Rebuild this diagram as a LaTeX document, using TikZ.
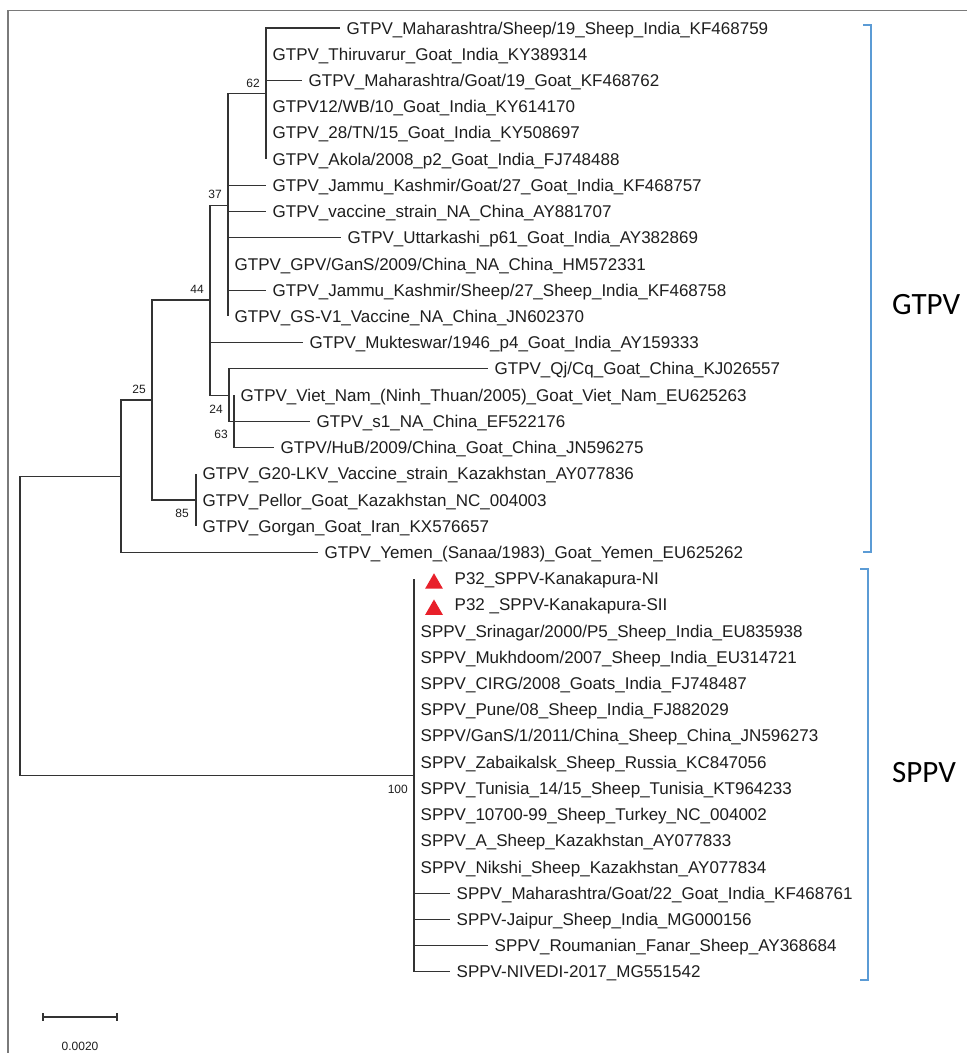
\documentclass[tikz,border=0pt]{standalone}
\usepackage{fontspec}
\setmainfont{Liberation Sans}
\newfontfamily\carlitofont{Carlito}
\usetikzlibrary{shapes.geometric}
\definecolor{txt}{HTML}{1E1E1E}
\definecolor{br}{HTML}{333333}
\definecolor{frame}{HTML}{7A7A7A}
\definecolor{bluebr}{HTML}{5B9BD5}
\definecolor{mkred}{HTML}{E8202A}
\tikzset{
  branch/.style={draw=br, line width=1.1pt},
  leaflabel/.style={anchor=base west, inner sep=0pt, xshift=6.5pt, yshift=-6pt,
     text=txt, font=\fontsize{17}{20}\selectfont},
  boot/.style={inner sep=0pt, text=txt, font=\fontsize{12}{14}\selectfont},
  grouplabel/.style={anchor=west, inner sep=0pt, text=black, font=\carlitofont\fontsize{31}{36}\selectfont},
  bracket/.style={draw=bluebr, line width=2pt},
  marker/.style={regular polygon, regular polygon sides=3, fill=mkred, draw=none,
     minimum size=20.5pt, inner sep=0pt}
}
\newcommand\leaf[5]{%
  \coordinate (#1) at (#3,#4);
  \draw[branch] (#2) |- (#1);
  \node[leaflabel] (#1t) at (#1) {#5};}
\begin{document}
\begin{tikzpicture}[x=1pt,y=-1pt]
\useasboundingbox (0,0) rectangle (967,1053);
\fill[white] (0,0) rectangle (967,1053);
% frame
\coordinate (fc) at (8,10.7);
\coordinate (fr) at (967,10.7);
\coordinate (fb) at (8,1053);
\draw[draw=frame, line width=1.4pt] (fr) -- (fc) -- (fb);
% internal nodes
\coordinate (n62) at (266,93.6);
\coordinate (n37) at (228,205.5);
\coordinate (n44) at (210,300);
\coordinate (n24) at (229,395.1);
\coordinate (n63) at (234,421.3);
\coordinate (n25) at (152,400);
\coordinate (n85) at (196,500);
\coordinate (nU) at (121,476.2);
\coordinate (nR) at (20,625.7);
\coordinate (nS) at (414,775.2);
\draw[branch] (n37) |- (n62);
\draw[branch] (n44) |- (n37);
\draw[branch] (n44) |- (n24);
\draw[branch] (n24) |- (n63);
\draw[branch] (n25) |- (n44);
\draw[branch] (n25) |- (n85);
\draw[branch] (nU) |- (n25);
\draw[branch] (nR) |- (nU);
\draw[branch] (nR) |- (nS);
% leaves
\leaf{l1}{n62}{340}{28}{GTPV\_Maharashtra/Sheep/19\_Sheep\_India\_KF468759}
\leaf{l2}{n62}{266}{54.2}{GTPV\_Thiruvarur\_Goat\_India\_KY389314}
\leaf{l3}{n62}{302}{80.4}{GTPV\_Maharashtra/Goat/19\_Goat\_KF468762}
\leaf{l4}{n62}{266}{106.7}{GTPV12/WB/10\_Goat\_India\_KY614170}
\leaf{l5}{n62}{266}{132.9}{GTPV\_28/TN/15\_Goat\_India\_KY508697}
\leaf{l6}{n62}{266}{159.1}{GTPV\_Akola/2008\_p2\_Goat\_India\_FJ748488}
\leaf{l7}{n37}{266}{185.3}{GTPV\_Jammu\_Kashmir/Goat/27\_Goat\_India\_KF468757}
\leaf{l8}{n37}{266}{211.5}{GTPV\_vaccine\_strain\_NA\_China\_AY881707}
\leaf{l9}{n37}{341}{237.8}{GTPV\_Uttarkashi\_p61\_Goat\_India\_AY382869}
\leaf{l10}{n37}{228}{264}{GTPV\_GPV/GanS/2009/China\_NA\_China\_HM572331}
\leaf{l11}{n37}{266}{290.2}{GTPV\_Jammu\_Kashmir/Sheep/27\_Sheep\_India\_KF468758}
\leaf{l12}{n37}{228}{316.4}{GTPV\_GS-V1\_Vaccine\_NA\_China\_JN602370}
\leaf{l13}{n44}{303}{342.6}{GTPV\_Mukteswar/1946\_p4\_Goat\_India\_AY159333}
\leaf{l14}{n24}{488}{368.9}{GTPV\_Qj/Cq\_Goat\_China\_KJ026557}
\leaf{l15}{n63}{234}{395.1}{GTPV\_Viet\_Nam\_(Ninh\_Thuan/2005)\_Goat\_Viet\_Nam\_EU625263}
\leaf{l16}{n24}{310}{421.3}{GTPV\_s1\_NA\_China\_EF522176}
\leaf{l17}{n63}{274}{447.5}{GTPV/HuB/2009/China\_Goat\_China\_JN596275}
\leaf{l18}{n85}{196}{473.7}{GTPV\_G20-LKV\_Vaccine\_strain\_Kazakhstan\_AY077836}
\leaf{l19}{n85}{196}{500}{GTPV\_Pellor\_Goat\_Kazakhstan\_NC\_004003}
\leaf{l20}{n85}{196}{526.2}{GTPV\_Gorgan\_Goat\_Iran\_KX576657}
\leaf{l21}{nU}{318}{552.4}{GTPV\_Yemen\_(Sanaa/1983)\_Goat\_Yemen\_EU625262}
\leaf{l22}{nS}{414}{578.6}{\hspace{34pt}P32\_SPPV-Kanakapura-NI}
\leaf{l23}{nS}{414}{604.8}{\hspace{34pt}P32 \_SPPV-Kanakapura-SII}
\leaf{l24}{nS}{414}{631.0}{SPPV\_Srinagar/2000/P5\_Sheep\_India\_EU835938}
\leaf{l25}{nS}{414}{657.3}{SPPV\_Mukhdoom/2007\_Sheep\_India\_EU314721}
\leaf{l26}{nS}{414}{683.5}{SPPV\_CIRG/2008\_Goats\_India\_FJ748487}
\leaf{l27}{nS}{414}{709.7}{SPPV\_Pune/08\_Sheep\_India\_FJ882029}
\leaf{l28}{nS}{414}{735.9}{SPPV/GanS/1/2011/China\_Sheep\_China\_JN596273}
\leaf{l29}{nS}{414}{762.1}{SPPV\_Zabaikalsk\_Sheep\_Russia\_KC847056}
\leaf{l30}{nS}{414}{788.4}{SPPV\_Tunisia\_14/15\_Sheep\_Tunisia\_KT964233}
\leaf{l31}{nS}{414}{814.6}{SPPV\_10700-99\_Sheep\_Turkey\_NC\_004002}
\leaf{l32}{nS}{414}{840.8}{SPPV\_A\_Sheep\_Kazakhstan\_AY077833}
\leaf{l33}{nS}{414}{867.0}{SPPV\_Nikshi\_Sheep\_Kazakhstan\_AY077834}
\leaf{l34}{nS}{450}{893.2}{SPPV\_Maharashtra/Goat/22\_Goat\_India\_KF468761}
\leaf{l35}{nS}{450}{919.5}{SPPV-Jaipur\_Sheep\_India\_MG000156}
\leaf{l36}{nS}{488}{945.7}{SPPV\_Roumanian\_Fanar\_Sheep\_AY368684}
\leaf{l37}{nS}{450}{971.9}{SPPV-NIVEDI-2017\_MG551542}
% markers
\node[marker] (m1) at (434,583.5) {};
\node[marker] (m2) at (434,609.7) {};
% bootstrap values
\node[boot, anchor=south east] (b62) at (260,88) {62};
\node[boot, anchor=south east] (b37) at (222,199) {37};
\node[boot, anchor=south east] (b44) at (204,294) {44};
\node[boot, anchor=south east] (b25) at (146,394) {25};
\node[boot, anchor=north east] (b24) at (223,405) {24};
\node[boot, anchor=north east] (b63) at (228,430) {63};
\node[boot, anchor=north east] (b85) at (189,509) {85};
\node[boot, anchor=north east] (b100) at (408,785) {100};
% group brackets
\coordinate (g1a) at (863,25);
\coordinate (g1b) at (871,25);
\coordinate (g1c) at (871,552);
\coordinate (g1d) at (863,552);
\draw[bracket] (g1a) -- (g1b) -- (g1c) -- (g1d);
\coordinate (g2a) at (860,569);
\coordinate (g2b) at (868,569);
\coordinate (g2c) at (868,980);
\coordinate (g2d) at (860,980);
\draw[bracket] (g2a) -- (g2b) -- (g2c) -- (g2d);
\node[grouplabel] (gl1) at (892,305) {GTPV};
\node[grouplabel] (gl2) at (892,773) {SPPV};
% scale bar
\coordinate (s1) at (43,1017);
\coordinate (s2) at (117,1017);
\draw[branch] (s1) -- (s2);
\draw[branch] ([yshift=4pt]s1) -- ([yshift=-4pt]s1);
\draw[branch] ([yshift=4pt]s2) -- ([yshift=-4pt]s2);
\node[boot] (sl) at (80,1046) {0.0020};
\end{tikzpicture}
\end{document}
